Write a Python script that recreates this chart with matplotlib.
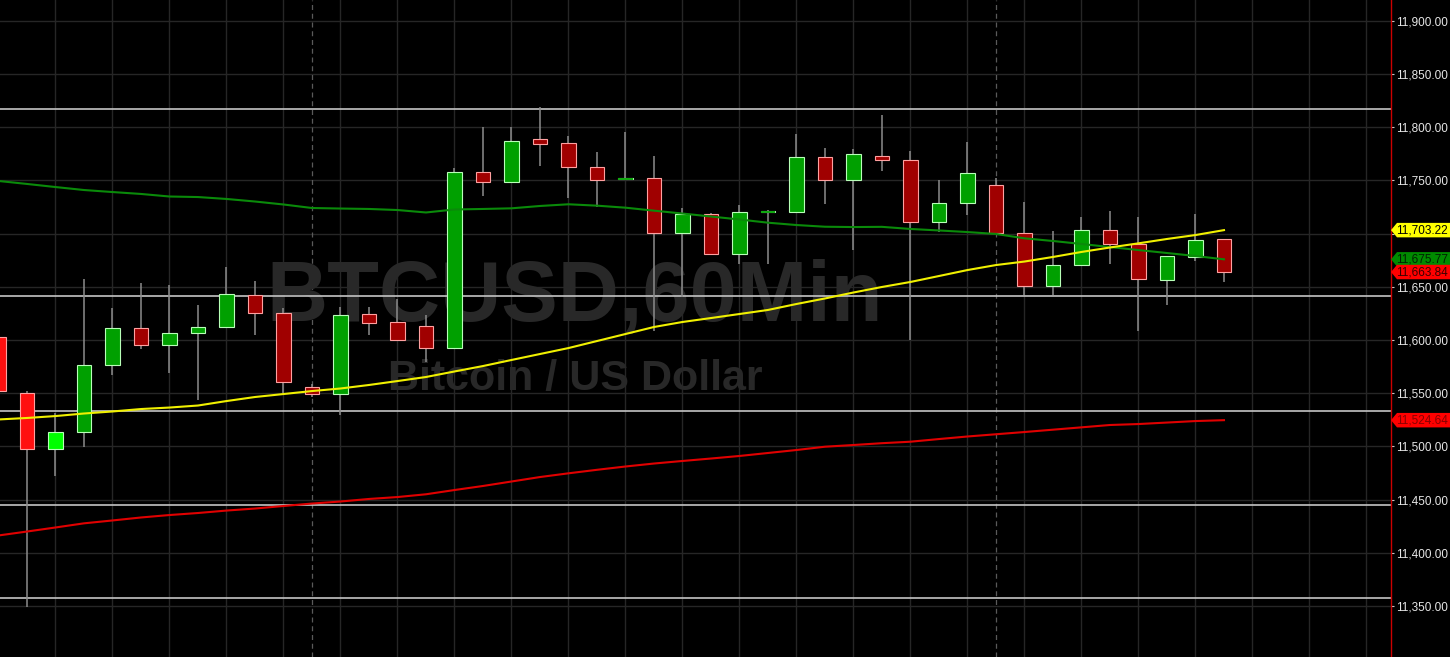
import numpy as np
import matplotlib.pyplot as plt
from matplotlib.patches import Polygon
from matplotlib.ticker import FuncFormatter

# hourly candles, bar index -1 .. 42
bars = np.arange(-1, 43)
opens = [11603.0, 11549.9, 11497.2, 11513.2, 11576.5, 11611.5, 11595.0, 11606.3, 11612.2, 11642.2,
         11625.6, 11556.1, 11548.9, 11624.1, 11616.6, 11613.4, 11592.2, 11758.1, 11748.7, 11789.1,
         11785.4, 11762.5, 11751.5, 11752.2, 11700.2, 11718.4, 11681.1, 11720.0, 11720.0, 11771.9,
         11750.0, 11773.1, 11769.1, 11710.6, 11728.4, 11745.6, 11700.2, 11651.0, 11670.2, 11703.3,
         11689.9, 11656.6, 11678.0, 11694.6]
highs = [11606.0, 11552.0, 11531.4, 11657.3, 11629.8, 11653.2, 11651.6, 11632.9, 11668.8, 11655.4,
         11629.8, 11558.5, 11630.7, 11630.7, 11638.2, 11623.5, 11761.3, 11800.4, 11800.4, 11818.6,
         11791.9, 11776.9, 11795.1, 11773.1, 11723.7, 11719.0, 11726.8, 11722.1, 11793.3, 11780.7,
         11779.2, 11811.4, 11777.8, 11750.3, 11786.3, 11752.5, 11729.6, 11702.4, 11715.3, 11721.2,
         11715.3, 11678.9, 11718.4, 11694.6]
lows = [11550.0, 11349.4, 11472.4, 11499.7, 11567.4, 11591.2, 11569.2, 11543.6, 11612.2, 11604.4,
        11549.9, 11546.0, 11529.5, 11604.4, 11600.0, 11579.6, 11592.2, 11735.6, 11748.7, 11763.7,
        11733.7, 11724.7, 11750.3, 11608.7, 11640.7, 11680.5, 11671.1, 11671.4, 11720.0, 11727.5,
        11684.5, 11759.0, 11600.0, 11701.7, 11717.7, 11700.2, 11642.2, 11642.2, 11670.2, 11671.4,
        11608.1, 11632.6, 11674.5, 11654.2]
closes = [11552.0, 11497.2, 11513.2, 11576.5, 11611.5, 11595.0, 11606.8, 11612.5, 11642.9, 11625.6,
          11560.2, 11549.2, 11623.5, 11615.7, 11600.0, 11592.2, 11758.1, 11748.7, 11787.2, 11784.4,
          11762.2, 11750.6, 11752.0, 11700.2, 11718.4, 11681.1, 11720.0, 11720.5, 11771.9, 11750.0,
          11775.0, 11768.8, 11710.6, 11728.4, 11756.9, 11700.2, 11651.0, 11670.2, 11703.3, 11689.9,
          11657.6, 11678.9, 11693.6, 11663.84]

# moving averages
ma_yellow = [11525.3, 11526.7, 11528.5, 11530.9, 11532.8, 11535.1, 11536.5, 11538.4, 11542.6, 11546.4,
             11549.2, 11552.0, 11554.4, 11557.7, 11561.4, 11565.2, 11570.4, 11575.5, 11581.2, 11586.8,
             11592.4, 11599.0, 11605.6, 11612.2, 11616.9, 11620.6, 11624.4, 11628.2, 11633.8, 11639.0,
             11644.6, 11649.8, 11654.5, 11660.1, 11665.7, 11670.4, 11673.7, 11678.0, 11682.7, 11686.9,
             11690.8, 11694.9, 11698.6, 11703.22]
ma_green = [11749.4, 11746.6, 11743.7, 11740.9, 11739.0, 11737.2, 11734.8, 11734.3, 11732.5, 11730.1,
            11727.3, 11724.0, 11723.5, 11723.1, 11722.1, 11719.8, 11722.6, 11723.1, 11723.7, 11725.9,
            11727.5, 11726.2, 11724.3, 11721.5, 11718.8, 11716.0, 11713.2, 11710.2, 11708.0, 11706.4,
            11706.1, 11706.3, 11704.3, 11702.9, 11701.4, 11699.6, 11695.5, 11693.0, 11690.2, 11687.3,
            11684.5, 11681.7, 11678.9, 11675.77]
ma_red = [11416.3, 11420.0, 11423.8, 11427.7, 11430.4, 11433.2, 11435.5, 11437.4, 11439.7, 11441.6,
          11444.0, 11446.3, 11448.2, 11450.6, 11452.4, 11455.0, 11459.0, 11462.8, 11467.0, 11471.2,
          11474.7, 11478.0, 11481.1, 11483.9, 11486.3, 11488.6, 11491.0, 11493.8, 11496.6, 11499.7,
          11501.3, 11503.0, 11504.4, 11506.9, 11509.3, 11511.4, 11513.5, 11515.7, 11517.9, 11520.1,
          11521.0, 11522.4, 11523.8, 11524.64]

levels = [11816.6, 11641.6, 11532.8, 11444.9, 11357.2]
day_breaks = [10, 34]
yticks = list(range(11350, 11901, 50))
hidden_ticks = [11700]  # covered by the yellow price tag

tag_values = [11703.22, 11675.77, 11663.84, 11524.64]
tag_fill = ['#ffff00', '#008a00', '#ff0000', '#ff0000']
tag_text = ['#000000', '#002200', '#3a0000', '#8a0000']

W, H = 1450, 657
fig = plt.figure(figsize=(W / 100, H / 100), dpi=100, facecolor='black')
ax = fig.add_axes([0, 0, 1391 / W, 1])
ax.set_facecolor('black')
ax.set_xlim(-0.947, 47.86)
ax.set_ylim(11302.1, 11919.45)

# grid
for v in yticks:
    ax.axhline(v, color='#262626', lw=1.0, zorder=0)
for k in range(1, 48, 2):
    ax.axvline(k, color='#262626', lw=1.0, zorder=0)
for k in day_breaks:
    ax.axvline(k, color='#5a5a5a', lw=0.9, ls=(0, (4, 3)), zorder=0.5)

# watermark
ax.text(575 / 1391, 1 - 321 / H, 'BTCUSD,60Min', transform=ax.transAxes, ha='center',
        va='baseline', fontsize=61, fontweight='bold', color='#282828',
        family='Liberation Sans', zorder=0.6)
ax.text(575 / 1391, 1 - 390 / H, 'Bitcoin / US Dollar', transform=ax.transAxes, ha='center',
        va='baseline', fontsize=31, fontweight='bold', color='#282828',
        family='Liberation Sans', zorder=0.6)

# support / resistance levels
for lv in levels:
    ax.axhline(lv, color='#c4c4c4', lw=1.2, zorder=1)

# moving averages
ax.plot(bars, ma_red, color='#e00000', lw=1.5, zorder=4)
ax.plot(bars, ma_green, color='#0a8a0a', lw=1.5, zorder=4)
ax.plot(bars, ma_yellow, color='#f0f000', lw=1.5, zorder=4)

# candles
o = np.array(opens)
c = np.array(closes)
up = c >= o
bright = bars < 2
body_col = np.where(up, np.where(bright, '#00ff00', '#00a000'), np.where(bright, '#ff1010', '#a00000'))
edge_col = np.where(up, '#b8ffb8', '#ffa0a0')
ax.vlines(bars, lows, highs, color='#8c8c8c', lw=1.1, zorder=2)
doji = np.abs(c - o) < 1.0
heights = np.where(doji, 1.0, c - o)
ax.bar(bars, heights, bottom=o, width=0.5, color=body_col, edgecolor=edge_col,
       linewidth=0.8, zorder=3)
ax.hlines(o[doji], bars[doji] - 0.25, bars[doji] + 0.25, color='#00a000', lw=1.3, zorder=3.5)

# axes styling
for s in ['top', 'left', 'bottom']:
    ax.spines[s].set_visible(False)
ax.spines['right'].set_color('#cc0000')
ax.spines['right'].set_linewidth(1.0)
ax.set_xticks([])
ax.yaxis.tick_right()
ax.set_yticks(yticks)
ax.yaxis.set_major_formatter(
    FuncFormatter(lambda v, p: '' if round(v) in hidden_ticks else f'{v:,.2f}'))
ax.tick_params(axis='y', direction='out', length=2.4, width=0.8, color='#c8c8c8',
               labelcolor='#e6e6e6', labelsize=8.5, pad=1.5)
for lab in ax.get_yticklabels():
    lab.set_family('Liberation Sans')

# price tags on the right axis
tr = ax.get_yaxis_transform()
hh = 6.8
x_end = W / 1391
x_body = 1397 / 1391
for val, fc, tc in zip(tag_values, tag_fill, tag_text):
    poly = Polygon([(1.0, val), (x_body, val + hh), (x_end, val + hh), (x_end, val - hh),
                    (x_body, val - hh)], closed=True, transform=tr, facecolor=fc,
                   edgecolor='none', clip_on=False, zorder=10)
    ax.add_patch(poly)
    ax.text(x_body - 0.001, val, f'{val:,.2f}', transform=tr, ha='left', va='center',
            fontsize=8.5, color=tc, family='Liberation Sans', clip_on=False, zorder=11)

fig.savefig('out.png', dpi=100, facecolor='black')
